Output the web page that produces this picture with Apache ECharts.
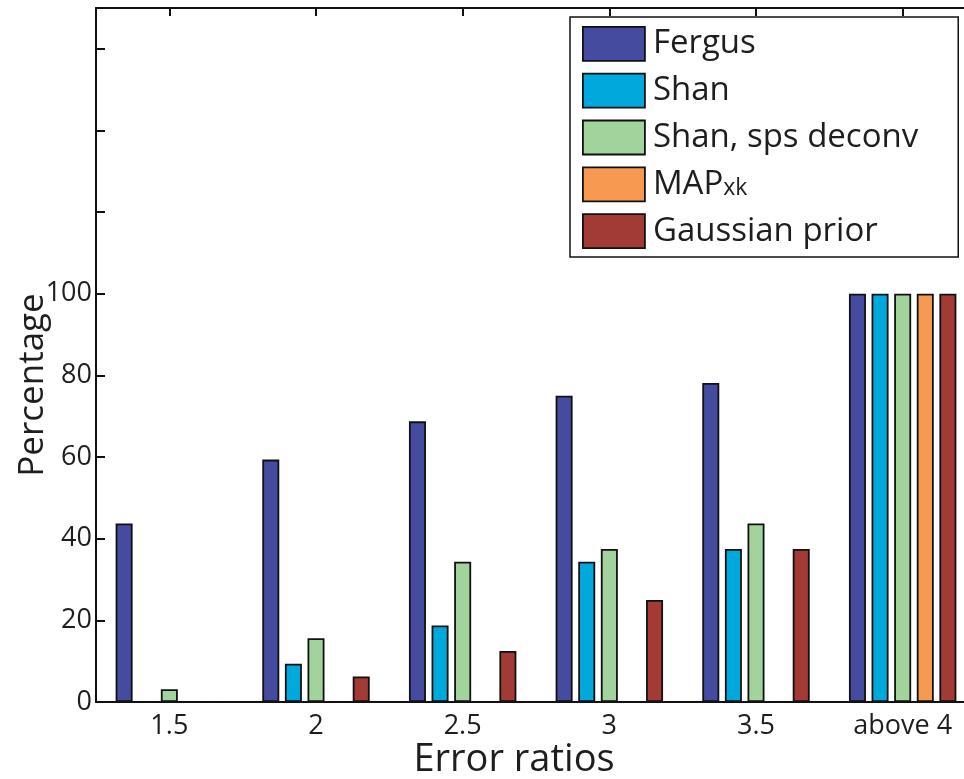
<!DOCTYPE html>
<html>
<head>
<meta charset="utf-8">
<script src="https://cdn.jsdelivr.net/npm/echarts@6/dist/echarts.min.js"></script>
<style>html,body{margin:0;padding:0;background:#fff;}#c{width:964px;height:779px;}</style>
</head>
<body>
<div id="c"></div>
<script>
const categories = ['1.5', '2', '2.5', '3', '3.5', 'above 4'];
const seriesNames = ['Fergus', 'Shan', 'Shan, sps deconv', 'MAPxk', 'Gaussian prior'];
const fergus = [43.75, 59.375, 68.75, 75, 78.125, 100];
const shan = [0, 9.375, 18.75, 34.375, 37.5, 100];
const shanSps = [3.125, 15.625, 34.375, 37.5, 43.75, 100];
const mapxk = [0, 0, 0, 0, 0, 100];
const gaussian = [0, 6.25, 12.5, 25, 37.5, 100];
const colors = ['#454b9e', '#00a9dc', '#a2d39c', '#f69a52', '#a23a36'];

const font = 'Open Sans';
const txt = '#1e1e1e';
const chart = echarts.init(document.getElementById('c'), null, {renderer: 'canvas'});
const values = [fergus, shan, shanSps, mapxk, gaussian];
const series = values.map((d, i) => ({
  name: seriesNames[i],
  type: 'bar',
  xAxisIndex: 0,
  yAxisIndex: 0,
  data: d,
  barWidth: 17,
  barGap: '33%',
  itemStyle: {color: colors[i], borderColor: '#111', borderWidth: 1.8},
  emphasis: {disabled: true},
  animation: false
}));
chart.setOption({
  backgroundColor: '#fff',
  animation: false,
  grid: {left: 96, right: -12, top: 8, bottom: 77, containLabel: false, outerBoundsMode: 'none'},
  legend: {
    show: true,
    left: 570, top: 17,
    orient: 'vertical',
    align: 'left',
    padding: [9, 40, 8, 12],
    itemWidth: 62, itemHeight: 34, itemGap: 11,
    borderColor: '#111', borderWidth: 1.5,
    backgroundColor: '#fff',
    icon: 'rect',
    itemStyle: {borderColor: '#111', borderWidth: 1.8},
    formatter: function (n) { return n === 'MAPxk' ? '{a|MAP}{s|xk}' : '{a|' + n + '}'; },
    textStyle: {
      fontFamily: font, fontSize: 33, color: txt, lineHeight: 32, padding: [0, 0, 0, 3],
      rich: {
        a: {fontFamily: font, fontSize: 33, color: txt, lineHeight: 32},
        s: {fontFamily: font, fontSize: 23, color: txt, lineHeight: 32, verticalAlign: 'bottom', padding: [10, 0, 0, 0]}
      }
    },
    selectedMode: false
  },
  xAxis: [{
    type: 'category',
    data: categories,
    position: 'bottom',
    name: 'Error ratios',
    nameLocation: 'middle',
    nameGap: 39,
    nameMoveOverlap: false,
    nameTextStyle: {fontFamily: font, fontSize: 38, color: txt, padding: [0, 44, 0, 0]},
    axisLine: {lineStyle: {color: '#111', width: 2}},
    axisTick: {show: true, inside: true, length: 8, alignWithLabel: true, lineStyle: {color: '#111', width: 2}},
    axisLabel: {fontFamily: font, fontSize: 27, color: txt, margin: 11},
    splitLine: {show: false}
  }, {
    type: 'category',
    data: categories,
    position: 'top',
    axisLine: {lineStyle: {color: '#111', width: 2}},
    axisTick: {show: true, inside: true, length: 8, alignWithLabel: true, lineStyle: {color: '#111', width: 2}},
    axisLabel: {show: false},
    splitLine: {show: false}
  }],
  yAxis: [{
    type: 'value',
    min: 0, max: 170, interval: 20,
    name: 'Percentage',
    nameLocation: 'middle',
    nameGap: 45,
    nameRotate: 90,
    nameMoveOverlap: false,
    nameTextStyle: {fontFamily: font, fontSize: 35, color: txt, padding: [0, 0, 0, -60]},
    axisLine: {show: true, lineStyle: {color: '#111', width: 2}},
    axisTick: {show: true, inside: true, length: 9, lineStyle: {color: '#111', width: 2}},
    axisLabel: {fontFamily: font, fontSize: 27, color: txt, margin: 4, formatter: v => (v <= 100 ? String(v) : '')},
    splitLine: {show: false}
  }],
  series: series
});
</script>
</body>
</html>
